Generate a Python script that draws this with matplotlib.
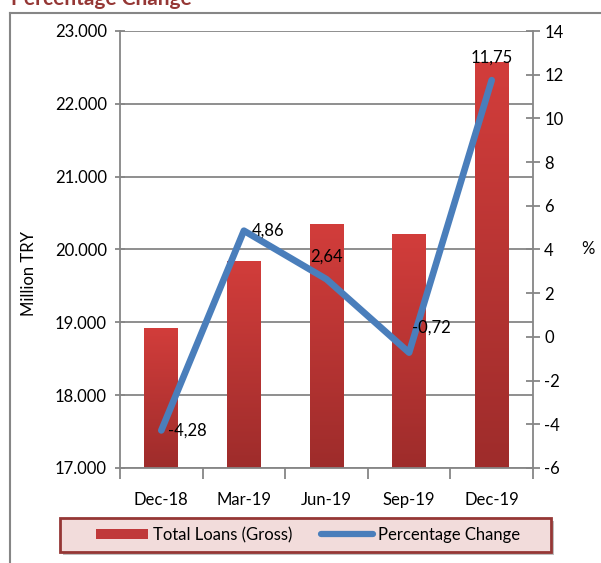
import numpy as np
import matplotlib
matplotlib.use("Agg")
import matplotlib.pyplot as plt
from matplotlib.colors import LinearSegmentedColormap
from matplotlib.patches import Rectangle, Patch
from matplotlib.lines import Line2D
from matplotlib.ticker import FuncFormatter

categories = ["Dec-18", "Mar-19", "Jun-19", "Sep-19", "Dec-19"]
loans = [18910, 19830, 20350, 20200, 22570]
pct = [-4.28, 4.86, 2.64, -0.72, 11.75]
pct_labels = ["-4,28", "4,86", "2,64", "-0,72", "11,75"]
left_ticks = [17000, 18000, 19000, 20000, 21000, 22000, 23000]
right_ticks = [-6, -4, -2, 0, 2, 4, 6, 8, 10, 12, 14]

plt.rcParams['font.family'] = ['Lato', 'DejaVu Sans']
GRAY = '#868686'

fig = plt.figure(figsize=(6.01, 5.63), dpi=100)
ax = fig.add_axes([120/601, 1-468/563, 413/601, 437/563])
ax2 = ax.twinx()

x = np.arange(len(categories))
bars = ax.bar(x, loans, width=0.41, color='none', zorder=2)
cmap = LinearSegmentedColormap.from_list('r', ['#9e2c2b', '#d23d3b'])
grad = np.linspace(0, 1, 256).reshape(-1, 1)
for b in bars:
    x0, w, h = b.get_x(), b.get_width(), b.get_height()
    ax.imshow(grad, extent=[x0, x0 + w, left_ticks[0], h], origin='lower',
              aspect='auto', cmap=cmap, zorder=2)

ax.set_xlim(-0.5, len(categories) - 0.5)
ax.set_ylim(left_ticks[0], left_ticks[-1])
ax.set_yticks(left_ticks)
ax.yaxis.set_major_formatter(FuncFormatter(lambda v, p: f"{int(v):,}".replace(",", ".")))
ax.grid(axis='y', color=GRAY, lw=1.3, zorder=0)
ax.set_axisbelow(True)
ax.set_xticks(x)
ax.set_xticklabels(categories, fontsize=12)
ax.set_xticks(np.arange(-0.5, len(categories)), minor=True)
ax.tick_params(axis='x', which='minor', length=8, color=GRAY, width=1.3, direction='out')
ax.tick_params(axis='y', length=7, color=GRAY, width=1.3, labelsize=12, direction='inout', pad=6)
ax.set_ylabel("Million TRY", fontsize=12)
ax.yaxis.set_label_coords(-0.2, 0.445)
for s in ['left', 'bottom', 'right', 'top']:
    ax.spines[s].set_color(GRAY)
    ax.spines[s].set_linewidth(1.3)
ax.spines['top'].set_visible(False)

ax2.plot(x, pct, color='#4a7ebb', lw=4.8, solid_capstyle='round', solid_joinstyle='round', zorder=5)
ax2.set_ylim(right_ticks[0], right_ticks[-1])
ax2.set_yticks(right_ticks)
ax2.yaxis.set_major_formatter(FuncFormatter(lambda v, p: f"{int(v)}"))
ax2.tick_params(axis='y', length=10, color=GRAY, width=1.3, labelsize=12, direction='inout', pad=3)
for s in ['left', 'bottom', 'right', 'top']:
    ax2.spines[s].set_visible(False)
ax2.set_ylabel("%", fontsize=12, rotation=0, labelpad=18, va='center')

offsets = [(5, 0, 'left', 'center'), (6, 0, 'left', 'center'), (0, 16, 'center', 'center'),
           (2, 18, 'left', 'center'), (0, 16, 'center', 'center')]
for xi, v, lab, (dx, dy, ha, va) in zip(x, pct, pct_labels, offsets):
    ax2.annotate(lab, (xi, v), xytext=(dx, dy), textcoords='offset points',
                 ha=ha, va=va, fontsize=12, zorder=6)

ax.xaxis.set_tick_params(which='major', length=0, pad=17)

# outer frame lines
fig.add_artist(Line2D([10/601, 10/601], [0, 1-13/563], transform=fig.transFigure, color=GRAY, lw=1.5))
fig.add_artist(Line2D([10/601, 1], [1-13/563, 1-13/563], transform=fig.transFigure, color=GRAY, lw=1.5))
fig.text(11/601, 1-5/563, "Percentage Change", color='#953735', fontsize=15, fontweight='bold',
         va='baseline', ha='left')

# legend box
fig.add_artist(Rectangle((63/601, 1-555/563), 491/601, 34/563, transform=fig.transFigure,
                         facecolor='#bfbfbf', edgecolor='none', zorder=1))
fig.add_artist(Rectangle((60/601, 1-552/563), 491/601, 34/563, transform=fig.transFigure,
                         facecolor='#f2dcdb', edgecolor='#953735', lw=2, zorder=2))
handles = [Patch(facecolor='#c0393a', edgecolor='none'),
           Line2D([0], [0], color='#4a7ebb', lw=4.5, solid_capstyle='round')]
leg = fig.legend(handles, ["Total Loans (Gross)", "Percentage Change"], ncol=2, frameon=False,
                 loc='center', bbox_to_anchor=(308/601, 1-535/563), fontsize=12,
                 handlelength=3.1, handletextpad=0.3, columnspacing=1.75, handleheight=0.6)
leg.set_zorder(3)

fig.savefig("out.png", dpi=100)
